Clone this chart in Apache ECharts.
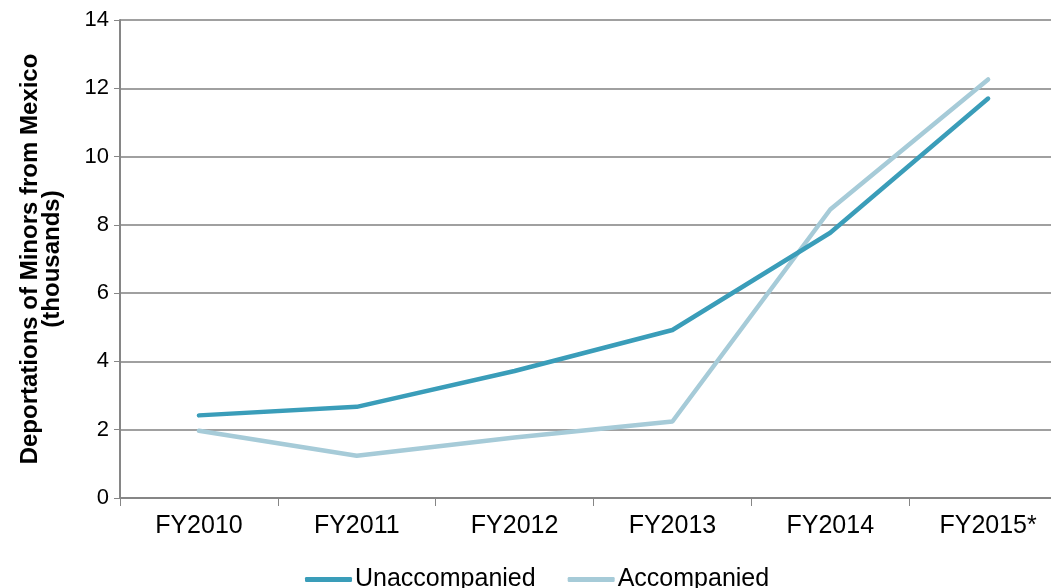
<!DOCTYPE html>
<html>
<head>
<meta charset="utf-8">
<script src="https://cdn.jsdelivr.net/npm/echarts@6/dist/echarts.min.js"></script>
<style>
html,body{margin:0;padding:0;background:#fff;}
#chart{width:1051px;height:588px;}
</style>
</head>
<body>
<div id="chart"></div>
<script>
const categories = ['FY2010', 'FY2011', 'FY2012', 'FY2013', 'FY2014', 'FY2015*'];
const unaccompanied = [2.42, 2.67, 3.72, 4.92, 7.77, 11.70];
const accompanied = [1.97, 1.24, 1.77, 2.24, 8.45, 12.26];
const yTicks = [0, 2, 4, 6, 8, 10, 12, 14];

const chart = echarts.init(document.getElementById('chart'));
const font = '"Liberation Sans", Arial, sans-serif';
chart.setOption({
  animation: false,
  textStyle: { fontFamily: font },
  grid: { left: 120, top: 20, bottom: 90, right: -16, containLabel: false, outerBoundsMode: 'none' },
  legend: {
    left: 300,
    top: 562,
    itemWidth: 47,
    itemHeight: 5,
    itemGap: 32,
    icon: 'roundRect',
    textStyle: { fontFamily: font, fontSize: 25, color: '#000', padding: [0, 0, 0, -2] },
    data: ['Unaccompanied', 'Accompanied']
  },
  xAxis: {
    type: 'category',
    data: categories,
    boundaryGap: true,
    axisLine: { lineStyle: { color: '#868686', width: 2 } },
    axisTick: { show: true, length: 8, lineStyle: { color: '#868686', width: 1 } },
    axisLabel: { color: '#000', fontSize: 25, fontFamily: font, margin: 16 },
    splitLine: { show: false }
  },
  yAxis: {
    type: 'value',
    min: 0,
    max: 14,
    interval: 2,
    name: 'Deportations of Minors from Mexico\n(thousands)',
    nameLocation: 'middle',
    nameRotate: 90,
    nameGap: 57,
    nameTextStyle: { fontSize: 24, fontWeight: 'bold', color: '#000', fontFamily: font, lineHeight: 22 },
    axisLine: { show: true, lineStyle: { color: '#868686', width: 2 } },
    axisTick: { show: true, length: 6, lineStyle: { color: '#868686' } },
    axisLabel: { color: '#000', fontSize: 22, fontFamily: font, margin: 11,
      formatter: v => yTicks.includes(v) ? String(v) : '' },
    splitLine: { show: true, lineStyle: { color: '#a0a0a0', width: 2 } }
  },
  series: [
    {
      name: 'Unaccompanied',
      type: 'line',
      data: unaccompanied,
      symbol: 'none',
      lineStyle: { color: '#3a9db9', width: 4.5, cap: 'round', join: 'round' },
      itemStyle: { color: '#3a9db9' },
      z: 3
    },
    {
      name: 'Accompanied',
      type: 'line',
      data: accompanied,
      symbol: 'none',
      lineStyle: { color: '#a6cbd8', width: 4.5, cap: 'round', join: 'round' },
      itemStyle: { color: '#a6cbd8' },
      z: 2
    }
  ]
});
</script>
</body>
</html>
